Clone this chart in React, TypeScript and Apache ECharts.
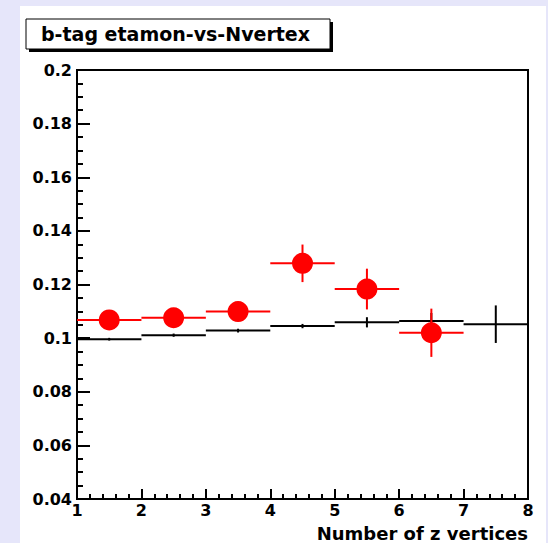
import React, { useEffect, useRef } from "react";
import * as echarts from "echarts";

// ---- data ----
const binCenters = [1.5, 2.5, 3.5, 4.5, 5.5, 6.5, 7.5];
const refValues = [0.0996, 0.1011, 0.1028, 0.1045, 0.1059, 0.1064, 0.1052];
const refErrors = [0.0005, 0.0006, 0.0007, 0.0008, 0.0019, 0.003, 0.007];

const dataCenters = [1.5, 2.5, 3.5, 4.5, 5.5, 6.5];
const dataValues = [0.1068, 0.1076, 0.1099, 0.1279, 0.1183, 0.102];
const dataErrors = [0.0025, 0.0028, 0.003, 0.007, 0.0076, 0.009];

const binHalfWidth = 0.5;
const titleText = "b-tag etamon-vs-Nvertex";
const xTitle = "Number of z vertices";

const FONT = "DejaVu Sans";

function errorBarSeries(centers: number[], values: number[], errors: number[], color: string, z: number) {
  return {
    type: "custom",
    z,
    silent: true,
    data: centers.map((c, i) => [c, values[i], errors[i]]),
    renderItem: (_params: any, api: any) => {
      const x = api.value(0);
      const y = api.value(1);
      const e = api.value(2);
      const pL = api.coord([x - binHalfWidth, y]);
      const pR = api.coord([x + binHalfWidth, y]);
      const pT = api.coord([x, y + e]);
      const pB = api.coord([x, y - e]);
      const style = { stroke: color, lineWidth: 2 };
      return {
        type: "group",
        children: [
          { type: "line", shape: { x1: pL[0], y1: pL[1], x2: pR[0], y2: pR[1] }, style },
          { type: "line", shape: { x1: pT[0], y1: pT[1], x2: pB[0], y2: pB[1] }, style },
        ],
      };
    },
  };
}

export default function App() {
  const ref = useRef<HTMLDivElement>(null);
  useEffect(() => {
    if (!ref.current) return;
    const chart = echarts.init(ref.current, null, { renderer: "svg" });
    chart.setOption({
      animation: false,
      backgroundColor: "#e6e6fa",
      textStyle: { fontFamily: FONT },
      grid: {
        left: 77,
        top: 70,
        right: 20,
        bottom: 44,
        show: true,
        borderColor: "#000",
        borderWidth: 2,
        backgroundColor: "#fff",
      },
      xAxis: {
        type: "value",
        min: 1,
        max: 8,
        interval: 1,
        axisLine: { show: true, lineStyle: { color: "#000", width: 2 } },
        axisTick: { show: true, inside: true, length: 10, lineStyle: { color: "#000", width: 2 } },
        minorTick: { show: true, splitNumber: 5, length: 5, lineStyle: { color: "#000", width: 2 } },
        splitLine: { show: false },
        axisLabel: {
          color: "#000",
          fontFamily: FONT,
          fontWeight: "bold",
          fontSize: 16,
          margin: 3,
          lineHeight: 17,
        },
      },
      yAxis: {
        type: "value",
        min: 0.04,
        max: 0.2,
        interval: 0.02,
        axisLine: { show: true, lineStyle: { color: "#000", width: 2 } },
        axisTick: { show: true, inside: true, length: 13, lineStyle: { color: "#000", width: 2 } },
        minorTick: { show: true, splitNumber: 4, length: 6, lineStyle: { color: "#000", width: 2 } },
        splitLine: { show: false },
        axisLabel: {
          color: "#000",
          fontFamily: FONT,
          fontWeight: "bold",
          fontSize: 16,
          margin: 5,
          formatter: (v: number) => String(+v.toFixed(2)),
        },
      },
      graphic: [
        { type: "rect", z: -100, shape: { x: 20, y: 6, width: 526, height: 540 }, style: { fill: "#fff" } },
        { type: "rect", z: 100, shape: { x: 29, y: 22, width: 304, height: 30 }, style: { fill: "#000" } },
        {
          type: "rect",
          z: 101,
          shape: { x: 26, y: 19, width: 304, height: 30 },
          style: { fill: "#fff", stroke: "#000", lineWidth: 1 },
        },
        {
          type: "text",
          z: 102,
          x: 41,
          y: 34,
          style: {
            text: titleText,
            fill: "#000",
            font: `bold 19px "${FONT}"`,
            verticalAlign: "middle",
          },
        },
        {
          type: "text",
          z: 102,
          x: 528,
          y: 533,
          style: {
            text: xTitle,
            fill: "#000",
            font: `bold 18px "${FONT}"`,
            align: "right",
            verticalAlign: "middle",
          },
        },
      ],
      series: [
        errorBarSeries(binCenters, refValues, refErrors, "#000", 3),
        errorBarSeries(dataCenters, dataValues, dataErrors, "#ff0000", 4),
        {
          type: "scatter",
          z: 5,
          silent: true,
          symbol: "circle",
          symbolSize: 21,
          itemStyle: { color: "#ff0000", opacity: 1 },
          emphasis: { disabled: true },
          data: dataCenters.map((c, i) => [c, dataValues[i]]),
        },
      ],
    });
    return () => chart.dispose();
  }, []);
  return <div ref={ref} style={{ position: "fixed", left: 0, top: 0, width: 548, height: 543 }} />;
}
